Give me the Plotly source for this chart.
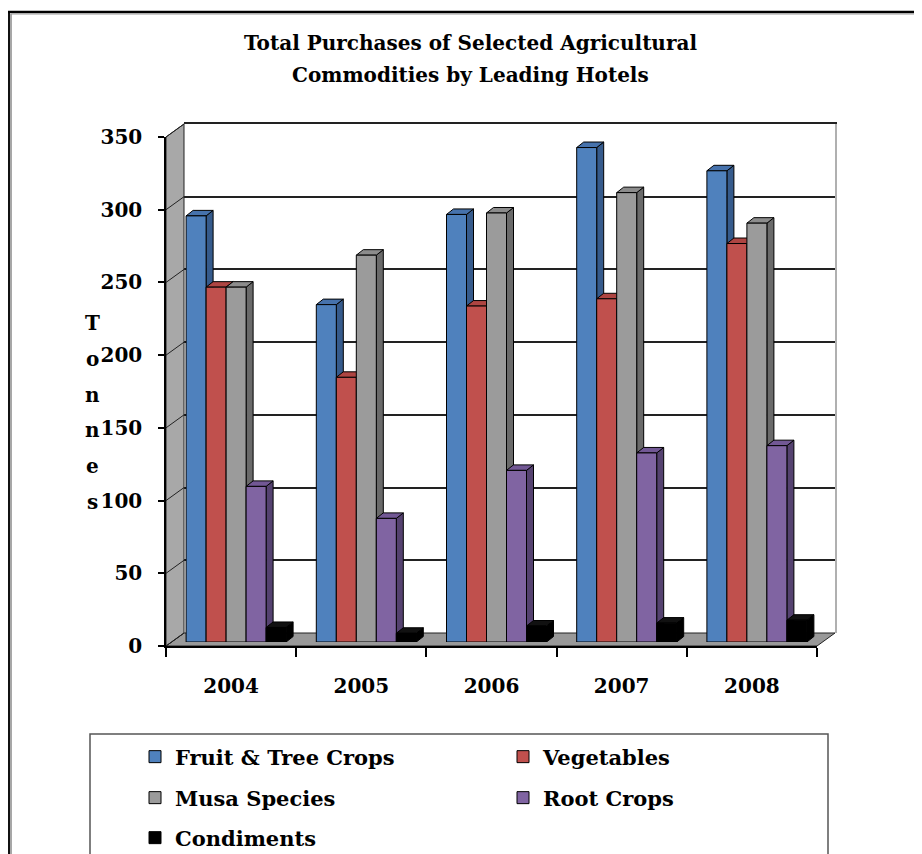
import plotly.graph_objects as go

# ---------------- data ----------------
years = ["2004", "2005", "2006", "2007", "2008"]
series_names = ["Fruit & Tree Crops", "Vegetables", "Musa Species", "Root Crops", "Condiments"]
fruit = [293, 232, 294, 340, 324]
vegetables = [244, 182, 231, 236, 274]
musa = [244, 266, 295, 309, 288]
root = [107, 85, 118, 130, 135]
condiments = [10, 6, 11, 13, 15]
y_ticks = [0, 50, 100, 150, 200, 250, 300, 350]
title_lines = ["Total Purchases of Selected Agricultural", "Commodities by Leading Hotels"]
axis_title_letters = ["T", "o", "n", "n", "e", "s"]

# ---------------- styles ----------------
front_colors = ["#4F81BD", "#C0504D", "#9B9B9B", "#8064A2", "#000000"]
top_colors = ["#4672AC", "#AE4542", "#8C8C8C", "#725895", "#111111"]
side_colors = ["#365B8C", "#8A3734", "#6A6A6A", "#554270", "#000000"]

W, H = 922, 854
OFF = 8  # page body margin
def px(x):
    return (x - OFF) / W
def py(y):
    return 1 - (y - OFF) / H

# front plane of the chart box (target pixels)
FX0, FX1 = 166, 817
FY0, FY1 = 646, 137
BDX, BDY = 18, 13        # back wall depth offset
RDX, RDY = 5, 4          # bar front plane offset
YMAX = 350
n_cat = len(years)
unit_x = (FX1 - FX0) / n_cat
unit_y = (FY0 - FY1) / YMAX
bar_w = 20 / unit_x
dep_x = 7 / unit_x
dep_y = 5.5 / unit_y

serif_wide = "DejaVu Serif"

values = [fruit, vegetables, musa, root, condiments]

fig = go.Figure()

# back wall subplot (x, y) -- gridlines only
fig.add_trace(go.Scatter(x=[None], y=[None], xaxis="x", yaxis="y", showlegend=False, hoverinfo="skip"))

# bars on (x2, y2)
legend_ids = ["legend", "legend2", "legend3", "legend4", "legend5"]
shapes = []
for j, (name, vals) in enumerate(zip(series_names, values)):
    xs = [i + (j - 2) * bar_w for i in range(n_cat)]
    fig.add_trace(go.Bar(
        x=xs, y=vals, width=bar_w, name=name,
        marker=dict(color=front_colors[j], line=dict(color="black", width=1)),
        xaxis="x2", yaxis="y2", legend=legend_ids[j],
    ))
    for xc, v in zip(xs, vals):
        xl, xr = xc - bar_w / 2, xc + bar_w / 2
        side = (f"M{xr},0 L{xr + dep_x},{dep_y} L{xr + dep_x},{v + dep_y} L{xr},{v} Z")
        top = (f"M{xl},{v} L{xl + dep_x},{v + dep_y} L{xr + dep_x},{v + dep_y} L{xr},{v} Z")
        shapes.append(dict(type="path", path=side, xref="x2", yref="y2", layer="below",
                           fillcolor=side_colors[j], line=dict(color="black", width=1)))
        shapes.append(dict(type="path", path=top, xref="x2", yref="y2", layer="below",
                           fillcolor=top_colors[j], line=dict(color="black", width=1)))

# front axes (x3, y3)
fig.add_trace(go.Scatter(x=[None], y=[None], xaxis="x3", yaxis="y3", showlegend=False, hoverinfo="skip"))

# ---------------- decorations (paper) ----------------
# floor
shapes.append(dict(type="path", xref="paper", yref="paper", layer="below",
                   path=(f"M{px(FX0)},{py(FY0)} L{px(FX1)},{py(FY0)} L{px(FX1 + BDX)},{py(FY0 - BDY)} "
                         f"L{px(FX0 + BDX)},{py(FY0 - BDY)} Z"),
                   fillcolor="#999999", line=dict(color="#222222", width=1)))
# side wall
shapes.append(dict(type="path", xref="paper", yref="paper", layer="below",
                   path=(f"M{px(FX0)},{py(FY0)} L{px(FX0)},{py(FY1)} L{px(FX0 + BDX)},{py(FY1 - BDY)} "
                         f"L{px(FX0 + BDX)},{py(FY0 - BDY)} Z"),
                   fillcolor="#A8A8A8", line=dict(color="#222222", width=1)))
# diagonal grid stubs on the side wall
for t in y_ticks:
    yf = FY0 - t * unit_y
    shapes.append(dict(type="line", xref="paper", yref="paper", layer="below",
                       x0=px(FX0), y0=py(yf), x1=px(FX0 + BDX), y1=py(yf - BDY),
                       line=dict(color="#222222", width=1)))
# outer frame
shapes.append(dict(type="line", xref="paper", yref="paper", x0=px(9), y0=py(12), x1=px(9), y1=py(870),
                   line=dict(color="#111111", width=2)))
shapes.append(dict(type="line", xref="paper", yref="paper", x0=px(11), y0=py(14), x1=px(11), y1=py(870),
                   line=dict(color="#8A8A8A", width=1.5)))
shapes.append(dict(type="line", xref="paper", yref="paper", x0=px(8), y0=py(12), x1=px(940), y1=py(12),
                   line=dict(color="#000000", width=2.5)))
shapes.append(dict(type="line", xref="paper", yref="paper", x0=px(11), y0=py(14), x1=px(940), y1=py(14),
                   line=dict(color="#9A9A9A", width=1)))
# legend box
shapes.append(dict(type="rect", xref="paper", yref="paper", x0=px(90), y0=py(734), x1=px(828), y1=py(880),
                   line=dict(color="#555555", width=1.5), fillcolor="rgba(0,0,0,0)"))

annotations = []
for k, line in enumerate(title_lines):
    annotations.append(dict(text=line, x=px(471), y=py(43 + 32 * k), xref="paper", yref="paper",
                            showarrow=False, xanchor="center", yanchor="middle",
                            font=dict(family=serif_wide, size=20, color="black", weight="bold")))
for k, ch in enumerate(axis_title_letters):
    annotations.append(dict(text=ch, x=px(92), y=py(323 + 35.8 * k), xref="paper", yref="paper",
                            showarrow=False, xanchor="center", yanchor="middle",
                            font=dict(family=serif_wide, size=20, color="black", weight="bold")))

# legends (left edge, row centre in target pixels)
legend_pos = [(135, 757), (503, 757), (135, 798), (503, 798), (135, 838)]
legend_layouts = {}
for lid, (lx, ly) in zip(legend_ids, legend_pos):
    legend_layouts[lid] = dict(x=px(lx), y=py(ly), xanchor="left", yanchor="middle",
                               bgcolor="rgba(0,0,0,0)", borderwidth=0,
                               font=dict(family=serif_wide, size=21, color="black", weight="bold"))

fig.update_layout(
    width=W, height=H,
    margin=dict(l=0, r=0, t=0, b=0, autoexpand=False),
    paper_bgcolor="white", plot_bgcolor="rgba(0,0,0,0)",
    barmode="overlay",
    showlegend=True,
    shapes=shapes, annotations=annotations,
    # back wall
    xaxis=dict(domain=[px(FX0 + BDX), px(FX1 + BDX)], range=[-0.5, 4.5], anchor="y",
               showgrid=False, zeroline=False, showticklabels=False, ticks="",
               showline=True, linecolor="#222222", linewidth=1.5, side="top", fixedrange=True),
    yaxis=dict(domain=[py(FY0 - BDY), py(FY1 - BDY)], range=[0, YMAX], anchor="x",
               tickvals=y_ticks, showgrid=True, gridcolor="#222222", gridwidth=1.5,
               zeroline=False, showticklabels=False, ticks="",
               showline=True, linecolor="#B0B0B0", linewidth=2, side="right", fixedrange=True),
    # bars
    xaxis2=dict(domain=[px(FX0 + RDX), px(FX1 + RDX)], range=[-0.5, 4.5], anchor="y2", visible=False,
                fixedrange=True),
    yaxis2=dict(domain=[py(FY0 - RDY), py(FY1 - RDY)], range=[0, YMAX], anchor="x2", visible=False,
                fixedrange=True),
    # front axes
    xaxis3=dict(domain=[px(FX0), px(FX1)], range=[-0.5, 4.5], anchor="y3",
                tickvals=list(range(n_cat)), ticktext=years, ticks="", showgrid=False, zeroline=False,
                showline=True, linecolor="black", linewidth=1.5, ticklabelstandoff=21,
                tickfont=dict(family=serif_wide, size=20, color="black", weight="bold"),
                minor=dict(tickvals=[i - 0.5 for i in range(n_cat + 1)], ticks="outside", ticklen=9,
                           tickcolor="black", tickwidth=1.5, showgrid=False),
                fixedrange=True),
    yaxis3=dict(domain=[py(FY0), py(FY1)], range=[0, YMAX], anchor="x3",
                tickvals=y_ticks, ticks="outside", ticklen=6, tickcolor="black", tickwidth=1.5,
                showgrid=False, zeroline=False, showline=True, linecolor="black", linewidth=1.5,
                ticklabelstandoff=12,
                tickfont=dict(family=serif_wide, size=20, color="black", weight="bold"),
                fixedrange=True),
    **legend_layouts,
)

fig.write_html("out.html")
